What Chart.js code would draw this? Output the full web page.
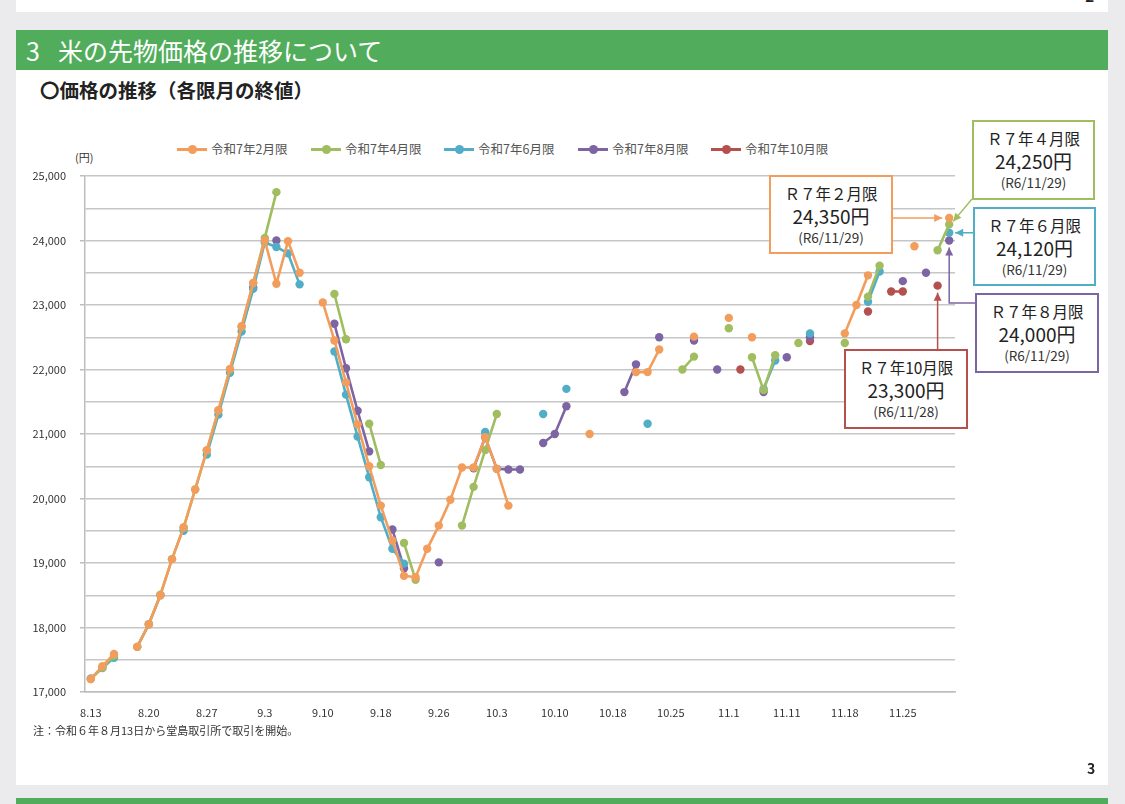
<!DOCTYPE html>
<html lang="ja">
<head>
<meta charset="utf-8">
<title>米の先物価格の推移</title>
<script src="https://cdn.jsdelivr.net/npm/chart.js@4.4.1/dist/chart.umd.min.js"></script>
<style>
  html, body { margin: 0; padding: 0; }
  body {
    width: 1125px; height: 804px; position: relative; overflow: hidden;
    background: #ebebed; color: #222;
    font-family: "Noto Sans CJK JP", "Noto Sans", sans-serif;
  }
  .sheet { position: absolute; left: 16px; width: 1092px; background: #fff; }
  #prev { top: 0; height: 12px; overflow: hidden; }
  #prev span { position: absolute; right: 14px; top: -14px; font-size: 15px; font-weight: bold; line-height: 20px; }
  #slide { top: 30px; height: 755px; }
  .bar { position: absolute; left: 16px; width: 1092px; background: #51ad5b; }
  #head { top: 30px; height: 40px; line-height: 40px; color: #fff; font-size: 25px; }
  #head .no { position: absolute; left: 10px; }
  #head .txt { position: absolute; left: 42px; }
  #next { top: 798px; height: 20px; }
  #sub { position: absolute; left: 40px; top: 78px; font-size: 19.5px; font-weight: bold; line-height: 24px; }
  #unit { position: absolute; left: 75px; top: 149px; font-size: 11px; color: #333; }
  #legend .item { position: absolute; top: 141px; height: 16px; font-size: 12.5px; color: #555; line-height: 16px; white-space: nowrap; }
  #legend .swatch { display: inline-block; position: relative; width: 30px; height: 16px; vertical-align: top; margin-right: 4px; }
  #legend .swatch i { position: absolute; left: 0; top: 7px; width: 30px; height: 3px; }
  #legend .swatch b { position: absolute; left: 11px; top: 4px; width: 9px; height: 9px; border-radius: 50%; }
  #note { position: absolute; left: 33px; top: 722px; font-size: 11px; color: #333; }
  #page { position: absolute; left: 1087px; top: 758px; font-size: 14px; font-weight: bold; }
  canvas { position: absolute; left: 0; top: 0; }
  .callout {
    position: absolute; box-sizing: border-box; background: #fff;
    border: 2px solid; text-align: center; color: #222; padding-top: 6px;
  }
  .callout .l1 { font-size: 15.5px; line-height: 21px; }
  .callout .l2 { font-size: 19px; line-height: 23px; }
  .callout .l3 { font-size: 13.5px; line-height: 20px; color: #333; }
</style>
</head>
<body>
<div class="sheet" id="prev"><span>2</span></div>
<div class="sheet" id="slide"></div>
<div class="bar" id="head"><span class="no">3</span><span class="txt">米の先物価格の推移について</span></div>
<div class="bar" id="next"></div>
<div id="sub">〇価格の推移（各限月の終値）</div>
<div id="unit">(円)</div>
<div id="legend"></div>
<canvas id="chart" width="1125" height="804"></canvas>
<div id="callouts"></div>
<div id="note">注：令和６年８月13日から堂島取引所で取引を開始。</div>
<div id="page">3</div>

<script>
// trading days (令和6年), Dojima exchange
const labels = [
  "8.13", "8.14", "8.15", "8.16", "8.19",
  "8.20", "8.21", "8.22", "8.23", "8.26",
  "8.27", "8.28", "8.29", "8.30", "9.2",
  "9.3", "9.4", "9.5", "9.6", "9.9",
  "9.10", "9.11", "9.12", "9.13", "9.17",
  "9.18", "9.19", "9.20", "9.24", "9.25",
  "9.26", "9.27", "9.30", "10.1", "10.2",
  "10.3", "10.4", "10.7", "10.8", "10.9",
  "10.10", "10.11", "10.15", "10.16", "10.17",
  "10.18", "10.21", "10.22", "10.23", "10.24",
  "10.25", "10.28", "10.29", "10.30", "10.31",
  "11.1", "11.5", "11.6", "11.7", "11.8",
  "11.11", "11.12", "11.13", "11.14", "11.15",
  "11.18", "11.19", "11.20", "11.21", "11.22",
  "11.25", "11.26", "11.27", "11.28", "11.29"
];

const seriesNames = ["令和7年2月限", "令和7年4月限", "令和7年6月限", "令和7年8月限", "令和7年10月限"];
const seriesColors = ["#f29d5c", "#a0bd60", "#52adc7", "#7d64a3", "#b4514e"];

// closing prices (円), null = no settlement that day
const feb = [
  17200, 17400, 17590, null, 17700,
  18050, 18500, 19060, 19550, 20140,
  20750, 21370, 22010, 22670, 23340,
  24000, 23330, 23990, 23500, null,
  23040, 22450, 21800, 21150, 20500,
  19890, 19350, 18800, 18780, 19220,
  19580, 19980, 20480, 20480, 20950,
  20460, 19890, null, null, null,
  null, null, null, 21000, null,
  null, null, 21960, 21960, 22310,
  null, null, 22510, null, null,
  22800, null, 22500, null, null,
  null, null, null, null, null,
  22560, 23000, 23460, null, null,
  null, 23910, null, null, 24350
];
const apr = [
  17200, 17380, 17560, null, 17700,
  18050, 18510, 19060, 19550, 20140,
  20740, 21360, 22000, 22660, 23340,
  24040, 24750, null, null, null,
  null, 23170, 22470, null, 21160,
  20520, null, 19310, 18740, null,
  null, null, 19580, 20180, 20750,
  21310, null, null, null, null,
  null, null, null, null, null,
  null, null, null, null, null,
  null, 22000, 22200, null, null,
  22640, null, 22190, 21680, 22220,
  null, 22410, null, null, null,
  22410, null, 23130, 23610, null,
  null, null, null, 23850, 24250
];
const jun = [
  17210, 17370, 17530, null, 17700,
  18050, 18500, null, 19500, null,
  20680, 21300, 21950, 22590, 23250,
  23970, 23900, 23800, 23320, null,
  null, 22280, 21610, 20960, 20330,
  19710, 19220, 18990, null, null,
  null, null, null, null, 21030,
  null, null, null, null, 21310,
  null, 21700, null, null, null,
  null, null, null, 21160, null,
  null, null, null, null, null,
  null, null, null, 21700, 22140,
  null, null, 22560, null, null,
  null, null, 23050, 23520, null,
  null, null, null, null, 24120
];
const aug = [
  null, null, null, null, null,
  null, null, null, null, null,
  null, null, null, null, 23270,
  null, 24000, null, null, null,
  null, 22710, 22020, 21360, 20730,
  null, 19520, 18920, null, null,
  19010, null, null, 20470, 20950,
  20460, 20450, 20450, null, 20860,
  21000, 21430, null, null, null,
  null, 21650, 22080, null, 22500,
  null, null, 22450, null, 22000,
  null, null, null, 21650, null,
  22190, null, 22500, null, null,
  null, null, null, null, null,
  23370, null, 23500, null, 24000
];
const oct = [
  null, null, null, null, null,
  null, null, null, null, null,
  null, null, null, null, null,
  null, null, null, null, null,
  null, null, null, null, null,
  null, null, null, null, null,
  null, null, null, null, null,
  null, null, null, null, null,
  null, null, null, null, null,
  null, null, null, null, null,
  null, null, null, null, null,
  null, 22000, null, null, null,
  null, null, 22440, null, null,
  null, null, 22900, null, 23210,
  23210, null, null, 23300, null
];
const seriesValues = [feb, apr, jun, aug, oct];

// callout labels: short name and the day it refers to
const calloutNames = ["Ｒ７年２月限", "Ｒ７年４月限", "Ｒ７年６月限", "Ｒ７年８月限", "Ｒ７年10月限"];
const calloutDays = [74, 74, 74, 74, 73];

// legend
const legendX = [177, 311, 444, 578, 711];
const legendEl = document.getElementById("legend");
seriesNames.forEach((name, i) => {
  const item = document.createElement("div");
  item.className = "item";
  item.style.left = legendX[i] + "px";
  item.innerHTML = `<span class="swatch"><i style="background:${seriesColors[i]}"></i><b style="background:${seriesColors[i]}"></b></span>${name}`;
  legendEl.appendChild(item);
});

// callout boxes (left, top, width, height)
const calloutBoxes = [
  [769, 175, 124, 79],
  [972, 120, 123, 80],
  [973, 207, 123, 79],
  [975, 293, 124, 80],
  [844, 349, 124, 80]
];
const calloutEl = document.getElementById("callouts");
calloutNames.forEach((name, i) => {
  const [l, t, w, h] = calloutBoxes[i];
  const day = calloutDays[i];
  const value = seriesValues[i][day];
  const box = document.createElement("div");
  box.className = "callout";
  box.style.cssText = `left:${l}px;top:${t}px;width:${w}px;height:${h}px;border-color:${seriesColors[i]}`;
  box.innerHTML = `<div class="l1">${name}</div><div class="l2">${value.toLocaleString("en-US")}円</div>` +
    `<div class="l3">(R6/${labels[day].replace(".", "/")})</div>`;
  calloutEl.appendChild(box);
});

function drawArrow(ctx, pts, color) {
  ctx.save();
  ctx.strokeStyle = color;
  ctx.fillStyle = color;
  ctx.lineWidth = 1.5;
  ctx.beginPath();
  ctx.moveTo(pts[0][0], pts[0][1]);
  for (let k = 1; k < pts.length; k++) ctx.lineTo(pts[k][0], pts[k][1]);
  ctx.stroke();
  const [x1, y1] = pts[pts.length - 2];
  const [x2, y2] = pts[pts.length - 1];
  const a = Math.atan2(y2 - y1, x2 - x1);
  const len = 8, wid = 4;
  ctx.beginPath();
  ctx.moveTo(x2, y2);
  ctx.lineTo(x2 - len * Math.cos(a) + wid * Math.sin(a), y2 - len * Math.sin(a) - wid * Math.cos(a));
  ctx.lineTo(x2 - len * Math.cos(a) - wid * Math.sin(a), y2 - len * Math.sin(a) + wid * Math.cos(a));
  ctx.closePath();
  ctx.fill();
  ctx.restore();
}

const calloutArrows = {
  id: "calloutArrows",
  afterDatasetsDraw(chart) {
    const { ctx, scales: { x, y } } = chart;
    const p = (i) => ({ x: x.getPixelForValue(calloutDays[i]), y: y.getPixelForValue(seriesValues[i][calloutDays[i]]) });
    const o = p(0), g = p(1), t = p(2), v = p(3), r = p(4);
    drawArrow(ctx, [[893, o.y], [o.x - 7, o.y]], seriesColors[0]);
    drawArrow(ctx, [[972, 199], [g.x + 4, g.y - 3]], seriesColors[1]);
    drawArrow(ctx, [[973, t.y], [t.x + 6, t.y]], seriesColors[2]);
    drawArrow(ctx, [[975, 303], [v.x, 303], [v.x, v.y + 7]], seriesColors[3]);
    drawArrow(ctx, [[r.x, 349], [r.x, r.y + 7]], seriesColors[4]);
  }
};

Chart.defaults.font.family = '"Noto Sans CJK JP", "Noto Sans", sans-serif';
Chart.defaults.font.size = 11;
Chart.defaults.color = "#333";

new Chart(document.getElementById("chart"), {
  type: "line",
  data: {
    labels: labels,
    datasets: seriesNames.map((name, i) => ({
      label: name,
      data: seriesValues[i],
      borderColor: seriesColors[i],
      backgroundColor: seriesColors[i],
      pointBackgroundColor: seriesColors[i],
      borderWidth: 2.6,
      pointRadius: 4.2,
      pointBorderWidth: 0,
      tension: 0,
      spanGaps: false
    }))
  },
  options: {
    responsive: false,
    animation: false,
    devicePixelRatio: 1,
    layout: { padding: { left: 0, top: 176, right: 170, bottom: 82 } },
    plugins: { legend: { display: false }, tooltip: { enabled: false } },
    scales: {
      x: {
        offset: true,
        afterFit: (s) => { s.height = 30; },
        grid: { display: false },
        border: { display: true, color: "#bdbdbd", width: 1.5 },
        ticks: {
          autoSkip: false,
          maxRotation: 0,
          padding: 6,
          color: "#333",
          callback: (val, i) => (i % 5 === 0 ? labels[i] : "")
        }
      },
      y: {
        min: 17000,
        max: 25000,
        afterFit: (s) => { s.width = 85; },
        border: { display: true, color: "#bdbdbd", width: 1.5 },
        grid: {
          color: "#c6c6c6",
          lineWidth: 1.5,
          tickLength: 5,
          tickColor: (c) => (c.tick && c.tick.value % 1000 === 0 ? "#bdbdbd" : "rgba(0,0,0,0)")
        },
        ticks: {
          stepSize: 500,
          padding: 14,
          color: "#333",
          callback: (val) => (val % 1000 === 0 ? val.toLocaleString("en-US") : "")
        }
      }
    }
  },
  plugins: [calloutArrows]
});
</script>
</body>
</html>
